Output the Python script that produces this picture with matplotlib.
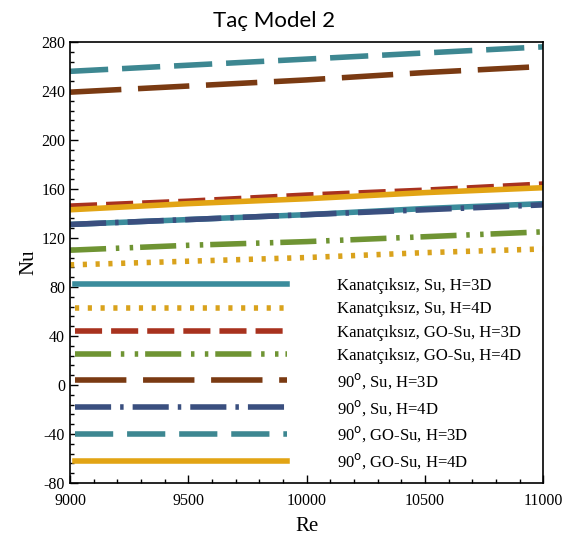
import numpy as np
import matplotlib
matplotlib.use("Agg")
import matplotlib.pyplot as plt
from matplotlib.ticker import MultipleLocator

plt.rcParams['lines.scale_dashes'] = False
plt.rcParams['axes.unicode_minus'] = False

re_vals = [9000, 9500, 10000, 10500, 11000]

labels = [
    "Kanatçıksız, Su, H=3D",
    "Kanatçıksız, Su, H=4D",
    "Kanatçıksız, GO-Su, H=3D",
    "Kanatçıksız, GO-Su, H=4D",
    "90$^{\\rm o}$, Su, H=3D",
    "90$^{\\rm o}$, Su, H=4D",
    "90$^{\\rm o}$, GO-Su, H=3D",
    "90$^{\\rm o}$, GO-Su, H=4D",
]

nu_k_su_3d = [131, 135, 139, 144, 148]
nu_k_su_4d = [98, 101, 104, 108, 111]
nu_k_go_3d = [146, 150, 155, 159, 164]
nu_k_go_4d = [110, 114, 117, 121, 125]
nu_90_su_3d = [239, 244, 249, 255, 260]
nu_90_su_4d = [131, 135, 139, 143, 147]
nu_90_go_3d = [256, 261, 266, 271, 276]
nu_90_go_4d = [143, 148, 152, 157, 161]

series = [nu_k_su_3d, nu_k_su_4d, nu_k_go_3d, nu_k_go_4d,
          nu_90_su_3d, nu_90_su_4d, nu_90_go_3d, nu_90_go_4d]

colors = ['#3b8c9c', '#d9a21c', '#a8321e', '#6f9433',
          '#7a3a12', '#3a4f7f', '#3d8791', '#e2a414']

# dash patterns in points (dash scaling is off)
styles = [
    '-',
    (0, (3, 6.2)),
    (0, (19.5, 6.5)),
    (0, (26, 7, 2.5, 7.5, 2.5, 5)),
    (0, (37, 12)),
    (0, (26, 6.5, 2.5, 6.5)),
    (0, (27.5, 10)),
    '-',
]

fig = plt.figure(figsize=(5.67, 5.51), dpi=100)
ax = fig.add_axes([0.1235, 0.1235, 0.8345, 0.8004])

# draw back-to-front so the dark blue sits on top of the teal
order = [0, 5, 1, 3, 2, 7, 4, 6]
handles = {}
for i in order:
    ln, = ax.plot(re_vals, series[i], color=colors[i], linestyle=styles[i],
                  linewidth=4.0, label=labels[i], dash_capstyle='butt')
    handles[i] = ln

ax.set_xlim(9000, 11000)
ax.set_ylim(-80, 280)
ax.xaxis.set_major_locator(MultipleLocator(500))
ax.xaxis.set_minor_locator(MultipleLocator(100))
ax.yaxis.set_major_locator(MultipleLocator(40))
ax.yaxis.set_minor_locator(MultipleLocator(8))
ax.tick_params(which='both', direction='in', top=False, right=False,
               width=1)
ax.tick_params(which='major', length=6)
ax.tick_params(which='minor', length=3)
ax.tick_params(axis='x', pad=7)
for lab in ax.get_xticklabels() + ax.get_yticklabels():
    lab.set_family('Liberation Serif')
    lab.set_fontsize(11.5)
for sp in ax.spines.values():
    sp.set_linewidth(1.2)

ax.set_xlabel("Re", family='Liberation Serif', fontsize=15, labelpad=6)
ax.set_ylabel("Nu", family='Liberation Serif', fontsize=15, labelpad=2)

leg = ax.legend([handles[i] for i in range(8)], labels, loc='lower left',
                bbox_to_anchor=(-0.015, 0.0), frameon=False,
                prop={'family': 'Liberation Serif', 'size': 12},
                handlelength=12.75, handletextpad=3.0, labelspacing=0.43,
                borderaxespad=0.3)

fig.text(0.483, 0.962, "Taç Model 2", ha='center', va='center',
         family='Lato', fontsize=16)

fig.savefig("out.png", dpi=100)
